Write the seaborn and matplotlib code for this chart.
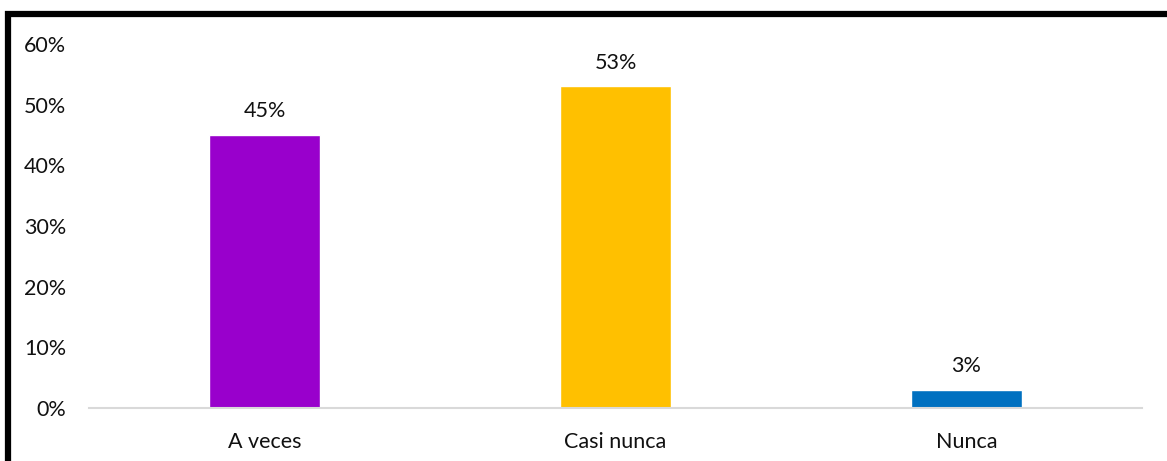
import matplotlib
matplotlib.use("Agg")
import matplotlib.pyplot as plt
from matplotlib.patches import Rectangle
import seaborn as sns
import pandas as pd

# Survey answers and their share of respondents (%)
categories = ["A veces", "Casi nunca", "Nunca"]
values = [45, 53, 3]
colors = ["#9900CC", "#FFC000", "#0070C0"]
y_ticks = [0, 10, 20, 30, 40, 50, 60]

sns.set_theme(style="white")
plt.rcParams["font.family"] = ["Lato", "DejaVu Sans"]

df = pd.DataFrame({"categoria": categories, "porcentaje": values})

fig = plt.figure(figsize=(11.67, 4.61), dpi=100)
ax = fig.add_axes([89 / 1167, 1 - 408 / 461, (1142 - 89) / 1167, (408 - 44) / 461])

sns.barplot(data=df, x="categoria", y="porcentaje", hue="categoria",
            palette=colors, width=0.316, saturation=1, legend=False, ax=ax)

ax.set_xlim(-0.5, 2.5)
ax.set_ylim(0, 60)
ax.set_yticks(y_ticks)
ax.set_yticklabels([f"{t}%" for t in y_ticks])
ax.set_xlabel("")
ax.set_ylabel("")
ax.tick_params(axis="both", length=0, labelsize=15.5, colors="#111111")
ax.tick_params(axis="y", pad=16.5)
ax.tick_params(axis="x", pad=17)

for side in ["top", "right", "left"]:
    ax.spines[side].set_visible(False)
ax.spines["bottom"].set_color("#D9D9D9")
ax.spines["bottom"].set_linewidth(1.5)

for cont in ax.containers:
    ax.bar_label(cont, labels=[f"{v:.0f}%" for v in cont.datavalues],
                 padding=10, fontsize=15.5, color="#111111")

# Heavy frame around the chart area
fig.patches.append(Rectangle((8 / 1167, -0.2), 1.3, (461 - 14) / 461 + 0.2,
                             transform=fig.transFigure, fill=False,
                             edgecolor="black", linewidth=4.5, zorder=10))

fig.savefig("out.png", dpi=100)
